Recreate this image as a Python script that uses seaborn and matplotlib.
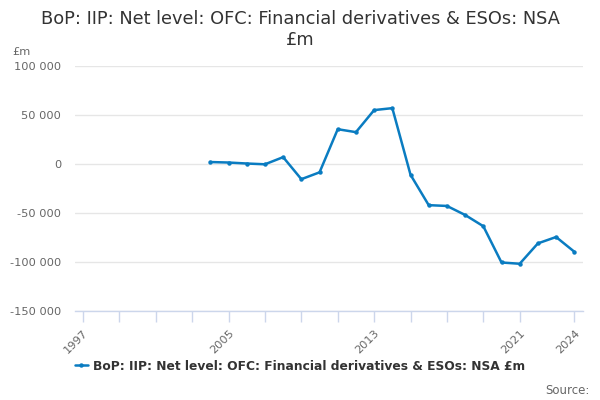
import numpy as np
import pandas as pd
import seaborn as sns
import matplotlib.pyplot as plt
from matplotlib.ticker import FuncFormatter

# values, £m
years = list(range(2004, 2025))
values = [2000, 1500, 500, -300, 7000, -15500, -8500, 35500, 32500, 55000, 57000,
          -11000, -42000, -42800, -52000, -63500, -100500, -101800, -81000, -74500, -89500]
series_name = "BoP: IIP: Net level: OFC: Financial derivatives & ESOs: NSA £m"
tick_years = [1997, 2005, 2013, 2021, 2024]
minor_years = list(range(1997, 2022, 2)) + [2024]

df = pd.DataFrame({"year": years, "value": values})

sns.set_theme(style="white")
plt.rcParams['font.family'] = ['DejaVu Sans']

fig = plt.figure(figsize=(6, 4), dpi=100)
ax = fig.add_axes([0.125, 0.2225, 0.847, 0.6125])

line_color = "#0a7cc1"
sns.lineplot(data=df, x="year", y="value", ax=ax, color=line_color, linewidth=1.8,
             marker="o", markersize=3.2, markeredgewidth=0, label=series_name)

ax.set_xlim(1996.56, 2024.49)
ax.set_ylim(-150000, 100000)
ax.set_yticks([-150000, -100000, -50000, 0, 50000, 100000])
ax.yaxis.set_major_formatter(FuncFormatter(lambda v, p: f"{int(v):,}".replace(",", " ")))
ax.yaxis.grid(True, color="#e6e6e6", linewidth=1)
ax.set_axisbelow(True)

ax.set_xticks(minor_years)
ax.set_xticklabels([str(y) if y in tick_years else "" for y in minor_years],
                   rotation=45, ha="right", rotation_mode="anchor")
ax.tick_params(axis="x", length=8, width=1, color="#ccd6eb",
               labelsize=8.2, pad=4, bottom=True)
for t in ax.get_xticklabels():
    t.set_color("#666666")
ax.tick_params(axis="y", length=0, labelsize=8.2, labelcolor="#666666", pad=10)

for s in ["top", "right", "left"]:
    ax.spines[s].set_visible(False)
ax.spines["bottom"].set_color("#ccd6eb")
ax.spines["bottom"].set_linewidth(1)

ax.set_xlabel("")
ax.set_ylabel("")

fig.text(0.5, 0.975, "BoP: IIP: Net level: OFC: Financial derivatives & ESOs: NSA\n£m",
         ha="center", va="top", fontsize=12.8, color="#333333", linespacing=1.2)
fig.text(0.021, 0.87, "£m", fontsize=8.2, color="#666666", va="center")
fig.text(0.982, 0.025, "Source:", fontsize=8.5, color="#666666", ha="right", va="center")

leg = ax.legend(loc="center", frameon=False, fontsize=8.8, handlelength=1.1,
                handletextpad=0.4)
leg.set_bbox_to_anchor((0.5, 0.085), transform=fig.transFigure)
for t in leg.get_texts():
    t.set_fontweight("bold")
    t.set_color("#333333")

fig.savefig("out.png", dpi=100)
